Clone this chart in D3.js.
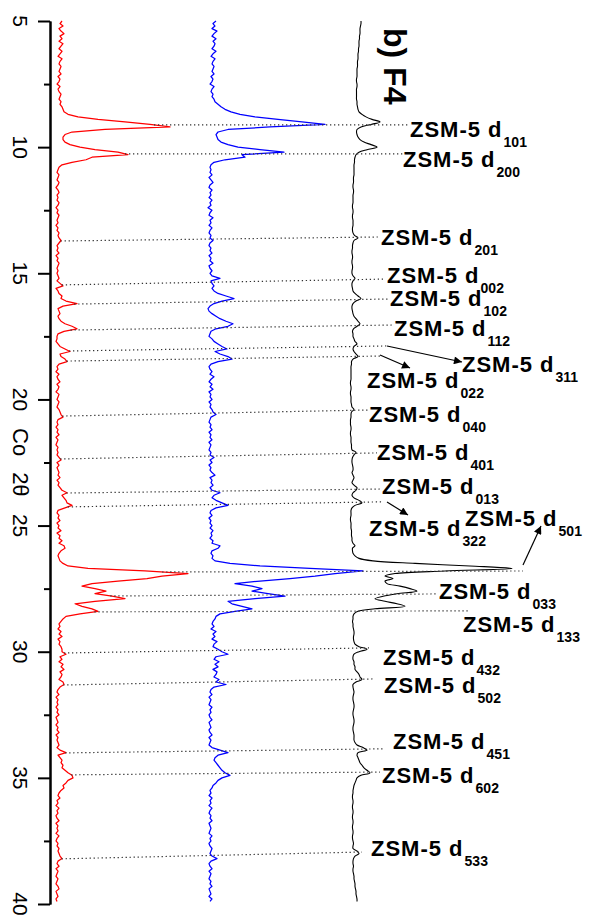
<!DOCTYPE html>
<html><head><meta charset="utf-8">
<script src="https://cdn.jsdelivr.net/npm/d3@7/dist/d3.min.js"></script>
<style>body{margin:0;background:#fff}svg{display:block}</style>
</head><body>
<svg id="chart" width="589" height="917"></svg>
<script>
// ---- data ----
const thetaStart = 5.0, thetaStep = 0.1;   // instrument step (2θ, degrees)
// intensities (a.u.), one row per degree of 2θ
const redSeries = [
 12,10,13,9,11,14,10,12,9,13,
 11,9,12,10,8,12,10,9,11,10,
 9,11,8,10,9,7,10,8,9,11,
 10,9,11,10,12,13,14,18,28,48,
 75,100,120,55,22,15,13,13,15,20,
 30,45,68,78,42,36,22,12,9,8,
 7,9,8,7,9,8,6,8,9,7,
 8,7,9,8,6,8,7,9,8,7,
 8,6,8,7,9,8,9,11,9,7,
 8,7,9,6,8,7,9,8,7,8,
 7,8,9,7,10,13,6,8,9,12,
 11,16,27,13,8,9,10,8,9,11,
 15,22,27,14,8,7,7,6,8,10,
 15,20,10,11,15,17,9,7,8,6,
 9,7,8,10,7,9,8,6,9,8,
 7,9,8,7,9,10,11,13,8,7,
 8,6,8,7,9,6,8,7,6,8,
 7,8,7,9,11,7,9,7,8,9,
 8,10,7,9,8,10,12,17,12,14,
 16,17,22,15,8,7,9,8,10,7,
 9,8,11,7,10,9,12,9,14,15,
 11,9,8,9,10,13,18,38,95,138,
 112,97,68,42,32,45,56,45,62,75,
 45,25,32,42,48,30,16,13,11,9,
 10,8,11,9,12,8,10,9,11,12,
 12,16,10,12,9,13,11,14,10,12,
 11,9,13,14,10,8,7,9,6,8,
 7,8,6,8,7,9,6,7,8,6,
 8,7,9,6,8,7,8,9,7,10,
 16,8,10,12,11,13,12,15,18,22,
 23,18,16,13,14,11,9,8,10,7,
 8,6,9,7,8,6,7,9,6,8,
 7,8,6,9,7,6,8,7,9,8,
 9,10,12,8,7,9,6,8,7,6,
 8,7,6,8,9,6,7,8,6,7
];
const blueSeries = [
 16,13,15,12,17,14,12,16,13,15,
 14,12,16,13,11,15,13,12,14,13,
 12,14,11,13,12,10,14,12,11,13,
 12,14,15,18,21,25,31,40,55,78,
 102,125,70,28,18,16,17,18,21,28,
 38,60,84,42,45,25,14,11,10,11,
 10,12,9,11,13,10,9,12,10,11,
 9,12,10,11,8,12,10,9,13,10,
 11,9,12,10,9,11,10,13,10,9,
 11,10,12,9,11,10,13,9,10,12,
 10,12,20,11,12,14,12,14,18,26,
 34,22,14,10,8,9,12,16,20,26,
 33,28,16,11,10,9,12,14,18,22,
 27,15,20,28,32,18,11,9,10,12,
 10,14,11,9,12,10,13,9,11,10,
 12,9,11,10,12,13,16,11,10,9,
 11,10,12,9,11,10,12,9,11,10,
 9,11,10,14,10,12,9,11,10,12,
 15,10,12,11,13,10,12,20,14,12,
 16,22,28,16,11,10,12,9,11,10,
 12,10,13,11,12,10,13,12,20,18,
 12,11,13,12,15,30,60,110,163,135,
 115,90,60,35,52,62,52,68,85,55,
 28,32,42,52,35,20,16,15,13,12,
 14,11,16,13,15,12,17,14,13,18,
 22,28,16,14,19,15,18,13,17,16,
 14,19,16,26,14,11,10,12,9,11,
 10,9,12,10,11,9,10,12,9,10,
 11,9,10,12,9,11,10,9,12,20,
 28,18,15,14,16,18,20,22,25,30,
 22,18,16,13,12,10,11,9,12,10,
 11,9,12,10,9,11,10,12,9,10,
 11,10,9,12,10,11,9,10,12,11,
 10,12,17,11,9,10,12,9,11,10,
 9,11,10,12,9,10,11,9,12,10
];
const blackSeries = [
 16,16,15.5,15,15,15,14.5,14.5,14,14,
 14,13.5,13.5,13,13,13,12.5,12.5,12.5,12,
 12,12,12,11.5,11.5,12,12,11.5,11.5,11.5,
 11.5,11.5,12,12,12.5,13,14,17,21,27,
 35,26,16,12,11.5,12,13,15,19,26,
 32,22,14,11,10,9.5,9.5,9,9,9,
 9,9,8.5,8.5,8.5,8,8,8.5,8.5,8,
 8,8,8,7.5,7.5,8,8,7.5,7.5,8,
 8,8,7.5,7.5,8,9.5,13,9,8,7.5,
 7.5,7,7,7.5,7.5,7,7,7.5,7.5,7,
 7,8,10,8,7,7,7.5,8,10,13,
 16,11,8,7,7,7.5,8,9,11,13,
 15,12,8.5,7.5,8,8,9,10,12,9,
 8,9,11,13,8,6.5,6.5,6,6,6,
 6,6,6,5.5,5.5,6,6,5.5,5.5,6,
 6,6,6.5,7,9,6.5,6,6,5.5,5.5,
 5.5,6,6,5.5,5.5,6,6,6,6.5,6.5,
 7,11,9,7.5,7,7,7.5,8,8,7,
 8,9,8,7,9,12,11,8,7,9,
 14,17,10,7,6,6,6,5.5,5.5,6,
 6,6,6.5,6.5,6.5,7,7,8,10,7.5,
 7.5,8,10,14,28,70,125,167,100,50,
 40,48,40,42,55,65,72,52,38,30,
 40,52,60,30,13,9,8,8,7.5,8,
 8,8.5,9,9,8.5,8.5,9,10,14,22,
 14,9,8,8,9,9,10,10,12,14,
 15,17,11,8,8,8.5,9,8.5,8,8,
 8.5,9,9,8.5,8,8,8.5,9,9,8.5,
 8,8,8.5,9,9,9,10,12,18,22,
 13,12,13,14,15,17,19,22,25,16,
 12,11,10,9,8.5,8,8,7.5,7.5,8,
 8,7.5,7.5,8,8,7.5,7.5,8,8,7.5,
 7.5,8,8,7.5,7.5,8,8.5,8,8,12,
 14,10,8.5,8,8,8.5,8,8,8.5,9,
 9,9.5,10,10,10.5,11,11,11.5,12,12
];
const majorTicks = [5,10,15,20,25,30,35,40];
const minorTicks = [7.5,12.5,17.5,22.5,27.5,32.5,37.5];
const axisTitle = ["Co", "2θ"];
const panelTitle = "b) F4";
// ZSM-5 reflections: hkl, 2θ at the lower trace, 2θ at the label side
const hkl = ["101","200","201","002","102","112","311","022","040","401","013","322","501","033","133","432","502","451","602","533"];
const peakTheta  = [9.12,10.27,13.72,15.46,16.22,17.25,18.08,18.48,20.66,22.36,23.71,24.26,26.84,27.79,28.42,30.05,31.32,34.01,34.88,38.21];
const labelTheta = [9.12,10.27,13.56,15.23,16.02,17.05,17.88,18.28,20.42,22.12,23.55,24.06,26.80,27.71,28.38,29.85,31.08,33.85,34.77,37.94];

// ---- layout (pixels) ----
const labelXY = [[410,137],[403,167],[381,245],[387,283],[390,306],[394,336],[462,372],[367,388],[369,422],[377,460],
                 [382,494],[369,536],[465,526],[439,599],[463,632],[383,665],[384,693],[393,749],[382,783],[371,856]];
const leaderEndX = [410,403,380,385,388,393,387,380,368,377,382,382,523,437,468,369,373,383,380,362];
const arrows = [[387,346,462,362],[380,355,410,368],[387,502,408,515],[523,565,541,526]];
const traces = [
  {values: redSeries,   offset: 0,   color: "#ff0000", width: 1.25, curve: d3.curveLinear},
  {values: blueSeries,  offset: 150, color: "#0000ff", width: 1.25, curve: d3.curveLinear},
  {values: blackSeries, offset: 295, color: "#000000", width: 1.1,  curve: d3.curveCatmullRom}
];

const svg = d3.select("#chart");
const y = d3.scaleLinear().domain([5, 40]).range([21, 904]);
const x = d3.scaleLinear().domain([0, 540]).range([50, 590]);
const theta = i => thetaStart + thetaStep * i;

// traces
traces.forEach(t => {
  const line = d3.line().curve(t.curve)
    .x(d => x(d + t.offset)).y((d, i) => y(theta(i)));
  svg.append("path").attr("d", line(t.values))
    .attr("fill", "none").attr("stroke", t.color).attr("stroke-width", t.width)
    .attr("stroke-linejoin", "round");
});

// leader lines
function redAt(th) {
  const f = (th - thetaStart) / thetaStep, i0 = Math.floor(f), r = f - i0;
  return redSeries[i0] * (1 - r) + redSeries[i0 + 1] * r;
}
hkl.forEach((h, k) => {
  svg.append("line")
    .attr("x1", x(redAt(peakTheta[k]))).attr("y1", y(peakTheta[k]))
    .attr("x2", leaderEndX[k]).attr("y2", y(labelTheta[k]))
    .attr("stroke", "#333").attr("stroke-width", 1.2).attr("stroke-dasharray", "1.3,2.7");
});

// arrows
svg.append("defs").append("marker").attr("id", "ah")
  .attr("viewBox", "0 0 10 10").attr("refX", 10).attr("refY", 5)
  .attr("markerWidth", 12).attr("markerHeight", 8).attr("markerUnits", "userSpaceOnUse")
  .attr("orient", "auto")
  .append("path").attr("d", "M0,0L10,5L0,10Z").attr("fill", "#000");
arrows.forEach(a => {
  svg.append("line").attr("x1", a[0]).attr("y1", a[1]).attr("x2", a[2]).attr("y2", a[3])
    .attr("stroke", "#000").attr("stroke-width", 1.2).attr("marker-end", "url(#ah)");
});

// labels
hkl.forEach((h, k) => {
  const t = svg.append("text").attr("x", labelXY[k][0]).attr("y", labelXY[k][1])
    .attr("font-family", "'Liberation Sans', Arial, sans-serif").attr("font-weight", "bold")
    .attr("font-size", 22).attr("fill", "#000");
  t.append("tspan").attr("letter-spacing", 1).text("ZSM-5 d");
  t.append("tspan").attr("font-size", 14).attr("dy", 9.5).attr("dx", 1).text(h);
});

// axis
const g = svg.append("g").attr("transform", "translate(50,0)");
g.call(d3.axisLeft(y).tickValues(majorTicks).tickSize(12).tickSizeOuter(0).tickFormat(""));
g.append("g").call(d3.axisLeft(y).tickValues(minorTicks).tickSize(6).tickSizeOuter(0).tickFormat(""));
g.selectAll("path,line").attr("stroke", "#000").attr("stroke-width", 2);
majorTicks.forEach(v => {
  svg.append("text").attr("transform", `translate(13,${y(v)}) rotate(90)`)
    .attr("text-anchor", "middle").attr("font-family", "'Liberation Sans', Arial, sans-serif")
    .attr("font-size", 21).text(v);
});
svg.append("text").attr("transform", "translate(13,428) rotate(90)")
  .attr("font-family", "'Liberation Sans', Arial, sans-serif").attr("font-size", 22)
  .text(axisTitle[0]).append("tspan").attr("dx", 16).text(axisTitle[1]);

// panel title
svg.append("text").attr("transform", "translate(384,28) rotate(90)")
  .attr("font-family", "'Liberation Sans', Arial, sans-serif").attr("font-weight", "bold")
  .attr("font-size", 32).text(panelTitle);
</script>
</body></html>
